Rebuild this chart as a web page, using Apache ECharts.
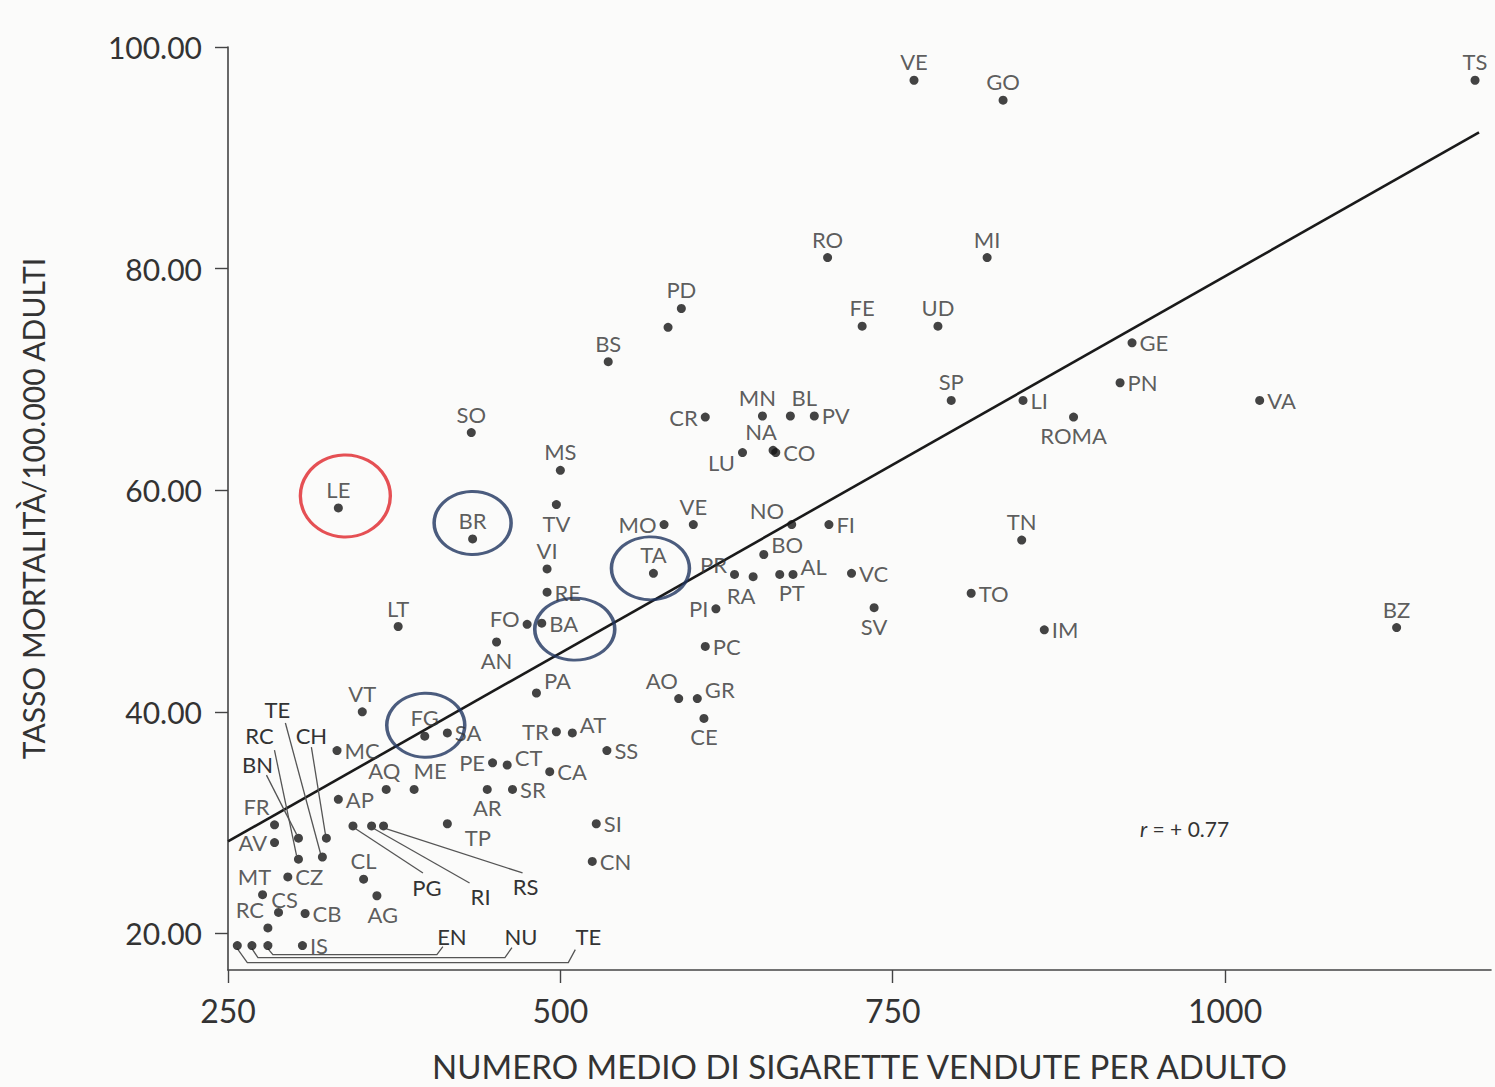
<!DOCTYPE html>
<html>
<head>
<meta charset="utf-8">
<script src="https://cdn.jsdelivr.net/npm/echarts@6/dist/echarts.min.js"></script>
<style>
html,body{margin:0;padding:0;background:#fbfbfa;}
#chart{width:1495px;height:1087px;}
</style>
</head>
<body>
<div id="chart"></div>
<script>
// ---- data ----
const names = ['LE','BR','SO','MS','TV','VI','RE','FO','BA','LT','AN','PA','VT','BS','PD','','CR','PR','RA','PT','AL','BO','NO','FI','VC','SV','PI','PC','AO','GR','CE','MO','VE','TA','MN','BL','PV','LU','NA','CO','RO','MI','FE','UD','SP','LI','ROMA','GE','PN','VA','TN','TO','IM','BZ','VE','GO','TS','TR','AT','SS','PE','CT','CA','SR','AR','TP','SI','CN','FG','SA','MC','AQ','ME','AP','FR','AV','BN','CH','RC','TE','CZ','MT','CS','CB','RC','CL','AG','PG','RI','RS','TE','NU','EN','IS'];
const cigarettes = [333,434,433,500,497,490,490,475,486,378,452,482,351,536,591,581,609,631,645,665,675,653,674,702,719,736,617,609,589,603,608,578,600,570,652,673,691,637,660,662,701,821,727,784,794,848,886,930,921,1026,847,809,864,1129,766,833,1188,497,509,535,449,460,492,464,445,415,527,524,398,415,332,369,390,333,285,285,303,324,303,321,295,276,288,308,280,352,362,344,358,367,257,268,280,306];
const mortality = [58.4,55.6,65.2,61.8,58.7,52.9,50.8,47.9,48.0,47.7,46.3,41.7,40.0,71.6,76.4,74.7,66.6,52.4,52.2,52.4,52.4,54.2,56.9,56.9,52.5,49.4,49.3,45.9,41.2,41.2,39.4,56.9,56.9,52.5,66.7,66.7,66.7,63.4,63.6,63.4,81.0,81.0,74.8,74.8,68.1,68.1,66.6,73.3,69.7,68.1,55.5,50.7,47.4,47.6,97.0,95.2,97.0,38.2,38.1,36.5,35.4,35.2,34.6,33.0,33.0,29.9,29.9,26.5,37.8,38.1,36.5,33.0,33.0,32.1,29.8,28.2,28.6,28.6,26.7,26.9,25.1,23.5,21.9,21.8,20.5,24.9,23.4,29.7,29.7,29.7,18.9,18.9,18.9,18.9];
const regressionX = [250, 1191];
const regressionY = [28.3, 92.3];
const xTicks = [250, 500, 750, 1000];
const yTicks = [20, 40, 60, 80, 100];
const circledNames = ['LE','BR','TA','BA','FG'];

// ---- layout / style (not data) ----
const labelPlace = [
 ['t'],['t'],['t'],['t'],['b'],['t'],['r'],['l',0,-6],['r'],['t'],['b'],['r',0,-12],['t'],
 ['t'],['t'],[null],['l'],['l',0,-10],['b',-12,0],['b',12,0],['r',0,-8],['r',0,-10],['l',0,-14],['r'],['r'],['b'],['l'],['r'],['t',-17,0],['r',0,-9],['b'],['l'],['t'],['t'],
 ['t',-5,0],['t',14,0],['r'],['l',0,10],['t',-12,0],['r'],
 ['t'],['t'],['t'],['t'],['t'],['r'],['b'],['r'],['r'],['r'],['t'],['r'],['r'],['t'],['t'],['t'],['t'],
 ['l'],['r',0,-8],['r'],['l'],['r',0,-8],['r'],['r'],['b'],['r',10,14],['r'],['r'],
 ['t'],['r'],['r'],['t',-2,0],['t',16,0],['r'],['t',-18,0],['l'],
 [null],[null],[null],[null],
 ['r'],['t',-8,0],['t',6,6],['r'],['t',-18,0],['t'],['b',6,0],
 [null],[null],[null],[null],[null],[null],['r']
];
const posMap = {t:'top', r:'right', l:'left', b:'bottom'};
// leader lines: index -> {path (px rel. to dot), lab (px rel. to dot)}
const leaders = {
 76:{path:[[-32,-63],[-2,-4]], lab:[-41,-74]},
 77:{path:[[-15,-91],[-1,-4]], lab:[-15,-103]},
 78:{path:[[-24,-109],[-2,-4]], lab:[-39,-124]},
 79:{path:[[-37,-134],[-2,-4]], lab:[-45,-147]},
 87:{path:[[3,3],[70,47]], lab:[74,62]},
 88:{path:[[3,3],[98,57]], lab:[109,71]},
 89:{path:[[3,3],[139,47]], lab:[142,61]},
 90:{path:[[0,3],[10,17],[331,17],[338,4]], lab:[351,-9]},
 91:{path:[[0,3],[6,12],[253,12],[260,2]], lab:[269,-9]},
 92:{path:[[0,3],[5,9],[169,9],[175,1]], lab:[184,-9]}
};
const leaderIdx = Object.keys(leaders).map(Number);
const circleStyle = {
 LE:{size:[90,82], off:[7,-12], color:'#e0252b'},
 BR:{size:[77,63], off:[0,-16], color:'#1f355f'},
 TA:{size:[78,63], off:[-3,-5], color:'#1f355f'},
 BA:{size:[80,62], off:[33,6], color:'#1f355f'},
 FG:{size:[78,64], off:[1,-11], color:'#1f355f'}
};

const FONT = 'Lato';
const TXT = '#333333';
const LBL = 22;

const pointData = names.map((n, i) => {
  const lp = labelPlace[i];
  const item = {name: n, value: [cigarettes[i], mortality[i]]};
  if (lp[0]) {
    item.label = {show: true, position: posMap[lp[0]], offset: [lp[1] || 0, lp[2] || 0]};
  } else {
    item.label = {show: false};
  }
  return item;
});

const circleData = circledNames.map(n => {
  const i = names.indexOf(n);
  const s = circleStyle[n];
  return {
    name: n, value: [cigarettes[i], mortality[i]],
    symbolSize: s.size, symbolOffset: s.off,
    itemStyle: {color: 'rgba(0,0,0,0)', borderColor: s.color, borderWidth: 3.2}
  };
});

const chart = echarts.init(document.getElementById('chart'), null, {renderer: 'svg'});
chart.setOption({
  backgroundColor: '#fbfbfa',
  animation: false,
  grid: {left: 228, right: 4, top: 47, bottom: 117, containLabel: false, outerBoundsMode: 'none'},
  xAxis: {
    type: 'value', min: 250, max: 1200,
    name: 'NUMERO MEDIO DI SIGARETTE VENDUTE PER ADULTO',
    nameLocation: 'middle', nameGap: 78,
    nameTextStyle: {fontFamily: FONT, fontSize: 33, color: TXT, lineHeight: 36},
    axisLine: {show: true, lineStyle: {color: '#444', width: 1.6}},
    axisTick: {show: true, length: 13, lineStyle: {color: '#444', width: 1.4}, customValues: xTicks},
    axisLabel: {fontFamily: FONT, fontSize: 32, color: TXT, margin: 24, customValues: xTicks,
      formatter: v => String(v)},
    splitLine: {show: false}
  },
  yAxis: {
    type: 'value', min: 16.7, max: 100,
    name: 'TASSO MORTALITÀ/100.000 ADULTI',
    nameLocation: 'middle', nameGap: 180, nameRotate: 90,
    nameTextStyle: {fontFamily: FONT, fontSize: 30, color: TXT},
    axisLine: {show: true, lineStyle: {color: '#444', width: 1.6}},
    axisTick: {show: true, length: 13, lineStyle: {color: '#444', width: 1.4}, customValues: yTicks},
    axisLabel: {fontFamily: FONT, fontSize: 30, color: TXT, margin: 26, customValues: yTicks,
      formatter: v => Number(v).toFixed(2)},
    splitLine: {show: false}
  },
  series: [
    {
      type: 'line', name: 'regression', data: regressionX.map((x, i) => [x, regressionY[i]]),
      symbol: 'none', lineStyle: {color: '#1a1a1a', width: 2.6}, z: 2, silent: true
    },
    {
      type: 'scatter', name: 'province', data: pointData, symbolSize: 9, clip: false,
      itemStyle: {color: '#151515'}, z: 4,
      label: {show: true, formatter: '{b}', fontFamily: FONT, fontSize: LBL, color: TXT, distance: 3}
    },
    {
      type: 'scatter', name: 'circled', data: circleData, symbol: 'circle', clip: false, z: 3, silent: true
    },
    {
      type: 'custom', name: 'leaders', clip: false, z: 3,
      data: leaderIdx.map(i => [cigarettes[i], mortality[i]]),
      renderItem: function (params, api) {
        const i = leaderIdx[params.dataIndex];
        const spec = leaders[i];
        const p = api.coord([api.value(0), api.value(1)]);
        return {
          type: 'group',
          children: [
            {type: 'polyline', shape: {points: spec.path.map(q => [p[0] + q[0], p[1] + q[1]])},
             style: {stroke: '#555', lineWidth: 1.3, fill: null}},
            {type: 'text', x: p[0] + spec.lab[0], y: p[1] + spec.lab[1],
             style: {text: names[i], fontFamily: FONT, fontSize: LBL, fill: TXT, align: 'center', verticalAlign: 'middle'}}
          ]
        };
      }
    }
  ],
  graphic: [
    {type: 'text', left: 1140, top: 818,
     style: {text: '{i|r} = + 0.77', fontFamily: FONT, fontSize: 21, fill: TXT,
       rich: {i: {fontStyle: 'italic', fontFamily: FONT, fontSize: 21, fill: TXT}}}}
  ]
});
</script>
</body>
</html>
